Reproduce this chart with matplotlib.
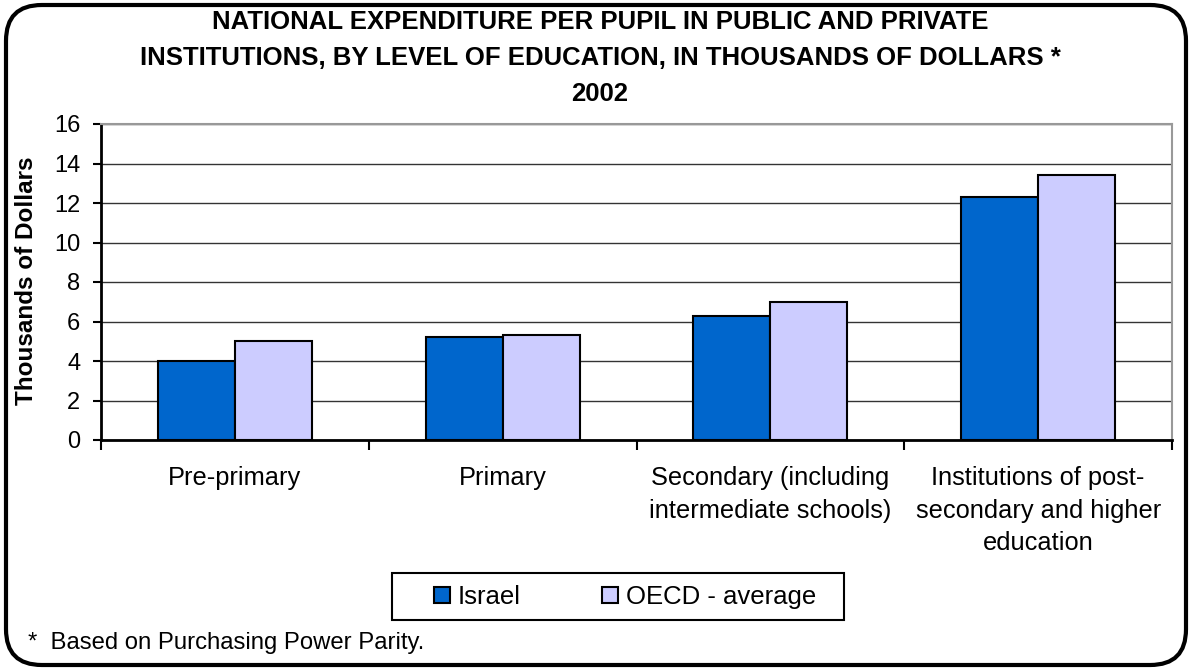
import matplotlib
matplotlib.use("Agg")
import matplotlib.pyplot as plt
import numpy as np
from matplotlib.patches import FancyBboxPatch, Rectangle

plt.rcParams['font.family'] = ['Liberation Sans', 'DejaVu Sans']

categories = ["Pre-primary", "Primary", "Secondary (including\nintermediate schools)",
              "Institutions of post-\nsecondary and higher\neducation"]
israel = [4.0, 5.2, 6.3, 12.3]
oecd = [5.0, 5.3, 7.0, 13.4]
series_names = ["Israel", "OECD - average"]
yticks = [0, 2, 4, 6, 8, 10, 12, 14, 16]
title = ("NATIONAL EXPENDITURE PER PUPIL IN PUBLIC AND PRIVATE\n"
         "INSTITUTIONS, BY LEVEL OF EDUCATION, IN THOUSANDS OF DOLLARS *\n2002")

W, H = 1192, 670
fig = plt.figure(figsize=(W / 100, H / 100), dpi=100)
fig.patch.set_facecolor("white")

def fx(px):
    return px / W

def fy(py):
    return 1 - py / H

# rounded frame
frame = FancyBboxPatch((6 / W, 5 / H), (W - 12) / W, (H - 10) / H,
                       boxstyle="round,pad=0,rounding_size=0.03",
                       transform=fig.transFigure, fill=False, lw=3, ec="black",
                       mutation_aspect=W / H)
fig.patches.append(frame)

left, right, top, bottom = 101, 1172, 124, 440
ax = fig.add_axes([fx(left), fy(bottom), (right - left) / W, (bottom - top) / H])

x = np.arange(len(categories))
bw = 0.288
ax.bar(x - bw / 2, israel, bw, color="#0066CC", edgecolor="black", lw=1.5, label=series_names[0], zorder=3)
ax.bar(x + bw / 2, oecd, bw, color="#CCCCFF", edgecolor="black", lw=1.5, label=series_names[1], zorder=3)

ax.set_xlim(-0.5, len(categories) - 0.5)
ax.set_ylim(0, 16)
ax.set_yticks(yticks)
ax.set_yticklabels([str(v) for v in yticks], fontsize=17)
ax.yaxis.grid(True, color="#333333", lw=1)
ax.set_axisbelow(True)

ax.set_xticks(np.arange(-0.5, len(categories), 1.0))
ax.set_xticklabels([])
ax.set_xticks(x, minor=True)
ax.set_xticklabels(categories, minor=True, fontsize=18.3, linespacing=1.45)
ax.tick_params(axis="x", which="minor", length=0, pad=19)
ax.tick_params(axis="x", which="major", length=7, width=1.5, direction="out")
ax.tick_params(axis="y", length=6, width=1.5, direction="out", pad=9)

for s in ["top", "right"]:
    ax.spines[s].set_color("#999999")
    ax.spines[s].set_linewidth(1.5)
for s in ["left", "bottom"]:
    ax.spines[s].set_color("black")
    ax.spines[s].set_linewidth(2)

fig.text(fx(27), fy(281), "Thousands of Dollars", rotation=90, ha="center", va="center",
         fontsize=17.5, fontweight="bold")

fig.text(fx(600), fy(58), title, ha="center", va="center", fontsize=18.5,
         fontweight="bold", linespacing=1.62)

leg = fig.legend(loc="center", bbox_to_anchor=(fx(625), fy(597)), ncol=2,
                 fontsize=18.5, frameon=False,
                 handlelength=0.6, handleheight=0.6, handletextpad=0.3,
                 columnspacing=3.2, borderpad=0.0)
for h in leg.legend_handles:
    h.set_linewidth(1.5)
fig.patches.append(Rectangle((fx(392), fy(620)), (844 - 392) / W, (620 - 573) / H,
                             transform=fig.transFigure, fill=False, ec="black", lw=1.5))

fig.text(fx(28), fy(643), "*  Based on Purchasing Power Parity.", ha="left",
         va="center", fontsize=17.2)

fig.savefig("out.png", dpi=100)
